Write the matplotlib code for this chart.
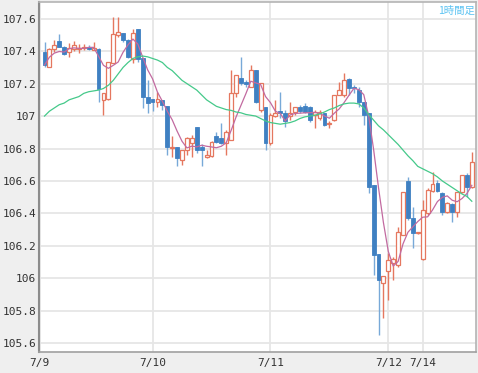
import matplotlib
matplotlib.use("Agg")
import matplotlib.pyplot as plt
import numpy as np
import pandas as pd

# ---- data (hourly candles) ----
opens = [107.397, 107.300, 107.411, 107.463, 107.428, 107.397, 107.411, 107.414, 107.418, 107.428,
         107.410, 107.411, 107.099, 107.103, 107.325, 107.500, 107.514, 107.469, 107.350, 107.535,
         107.356, 107.116, 107.103, 107.089, 107.099, 107.062, 106.801, 106.812, 106.729, 106.791,
         106.832, 106.931, 106.810, 106.750, 106.752, 106.877, 106.863, 106.836, 106.853, 107.140,
         107.232, 107.212, 107.181, 107.284, 107.037, 107.058, 106.832, 107.000, 107.031, 107.021,
         107.000, 107.027, 107.054, 107.062, 107.058, 107.007, 106.986, 107.017, 106.951, 106.976,
         107.130, 107.130, 107.228, 107.181, 107.161, 107.089, 107.017, 106.575, 106.148, 105.973,
         106.047, 106.097, 106.082, 106.267, 106.602, 106.370, 106.280, 106.117, 106.401, 106.538,
         106.590, 106.524, 106.411, 106.458, 106.411, 106.534, 106.637, 106.565]
highs = [107.459, 107.420, 107.469, 107.506, 107.432, 107.448, 107.460, 107.447, 107.447, 107.438,
         107.458, 107.417, 107.140, 107.335, 107.613, 107.613, 107.514, 107.473, 107.535, 107.535,
         107.356, 107.222, 107.103, 107.150, 107.099, 107.062, 106.877, 106.812, 106.791, 106.870,
         106.883, 106.931, 106.830, 106.790, 106.845, 106.904, 106.955, 106.914, 107.284, 107.253,
         107.366, 107.220, 107.315, 107.284, 107.202, 107.058, 107.017, 107.099, 107.150, 107.037,
         107.089, 107.058, 107.068, 107.080, 107.062, 107.037, 107.035, 107.017, 106.970, 107.130,
         107.210, 107.263, 107.232, 107.190, 107.181, 107.089, 107.017, 106.575, 106.148, 106.014,
         106.154, 106.134, 106.319, 106.534, 106.627, 106.442, 106.285, 106.483, 106.555, 106.657,
         106.606, 106.534, 106.473, 106.462, 106.534, 106.637, 106.647, 106.781]
lows = [107.304, 107.300, 107.397, 107.424, 107.376, 107.366, 107.400, 107.390, 107.410, 107.407,
        107.405, 107.089, 107.007, 107.099, 107.325, 107.490, 107.459, 107.356, 107.329, 107.335,
        107.048, 107.017, 107.030, 107.058, 107.037, 106.760, 106.750, 106.690, 106.700, 106.760,
        106.750, 106.775, 106.690, 106.740, 106.745, 106.835, 106.828, 106.760, 106.850, 107.120,
        107.190, 107.181, 107.181, 107.078, 107.027, 106.791, 106.822, 106.996, 106.990, 106.930,
        106.976, 107.007, 107.017, 107.020, 106.965, 106.924, 106.975, 106.940, 106.925, 106.972,
        107.128, 107.120, 107.130, 107.140, 107.058, 106.945, 106.524, 106.021, 105.651, 105.754,
        105.867, 105.990, 106.072, 106.267, 106.360, 106.185, 106.275, 106.113, 106.390, 106.534,
        106.534, 106.390, 106.401, 106.349, 106.380, 106.524, 106.503, 106.555]
closes = [107.315, 107.411, 107.438, 107.428, 107.380, 107.418, 107.438, 107.422, 107.428, 107.411,
          107.418, 107.167, 107.140, 107.335, 107.504, 107.520, 107.469, 107.366, 107.514, 107.350,
          107.116, 107.079, 107.089, 107.103, 107.068, 106.812, 106.812, 106.740, 106.791, 106.863,
          106.867, 106.790, 106.790, 106.760, 106.842, 106.842, 106.836, 106.900, 107.140, 107.253,
          107.202, 107.195, 107.284, 107.089, 107.202, 106.832, 107.007, 107.021, 107.017, 106.972,
          107.017, 107.054, 107.030, 107.027, 106.976, 107.027, 107.027, 106.945, 106.959, 107.130,
          107.161, 107.222, 107.171, 107.171, 107.089, 107.007, 106.565, 106.144, 105.990, 106.014,
          106.113, 106.117, 106.288, 106.534, 106.370, 106.278, 106.281, 106.421, 106.545, 106.581,
          106.538, 106.411, 106.466, 106.411, 106.534, 106.637, 106.565, 106.719]
ma_long = [107.000, 107.030, 107.050, 107.070, 107.080, 107.100, 107.110, 107.120, 107.140, 107.150,
           107.155, 107.160, 107.170, 107.190, 107.220, 107.260, 107.300, 107.330, 107.355, 107.365,
           107.370, 107.365, 107.355, 107.345, 107.330, 107.300, 107.280, 107.250, 107.220, 107.200,
           107.180, 107.160, 107.130, 107.100, 107.080, 107.060, 107.050, 107.040, 107.035, 107.025,
           107.020, 107.010, 107.005, 107.000, 106.985, 106.970, 106.960, 106.955, 106.950, 106.955,
           106.960, 106.970, 106.985, 106.995, 107.000, 107.005, 107.013, 107.025, 107.040, 107.050,
           107.065, 107.075, 107.080, 107.080, 107.075, 107.050, 107.010, 106.975, 106.940, 106.915,
           106.885, 106.855, 106.825, 106.790, 106.755, 106.725, 106.690, 106.675, 106.660, 106.645,
           106.625, 106.600, 106.580, 106.560, 106.540, 106.520, 106.505, 106.475]
date_labels = ["7/9", "7/10", "7/11", "7/12", "7/14"]
date_label_index = [-1, 22, 46, 70, 77]
price_ticks = [105.6, 105.8, 106.0, 106.2, 106.4, 106.6, 106.8, 107.0, 107.2, 107.4, 107.6]
price_tick_labels = ["105.6", "105.8", "106", "106.2", "106.4", "106.6", "106.8", "107", "107.2", "107.4", "107.6"]
timeframe_label = "1時間足"

# ---- styling ----
UP_EDGE = "#e5775f"
DOWN_FACE = "#3f80c2"
DOWN_WICK = "#78a9d8"
MA_SHORT = "#c26aa0"
MA_LONG = "#45c98a"

fig = plt.figure(figsize=(4.78, 3.73), dpi=100, facecolor="#efefef")
ax = fig.add_axes([39 / 478, 1 - 352 / 373, (476 - 39) / 478, (352 - 2) / 373])
ax.set_facecolor("white")

o = np.array(opens); h = np.array(highs); l = np.array(lows); c = np.array(closes)
x = np.arange(len(o))
up = c >= o

# wicks
ax.vlines(x[up], l[up], h[up], color=UP_EDGE, lw=1.0, zorder=2)
ax.vlines(x[~up], l[~up], h[~up], color=DOWN_WICK, lw=1.0, zorder=2)

# bodies
bw = 0.78
body_bottom = np.minimum(o, c)
body_h = np.maximum(np.abs(c - o), 0.004)
ax.bar(x[up], body_h[up], bottom=body_bottom[up], width=bw, facecolor="white",
       edgecolor=UP_EDGE, linewidth=0.9, zorder=3)
ax.bar(x[~up], body_h[~up], bottom=body_bottom[~up], width=bw, facecolor=DOWN_FACE,
       edgecolor=DOWN_FACE, linewidth=0.6, zorder=3)

# moving averages
ma_short = pd.Series(closes).rolling(5, min_periods=1).mean()
ax.plot(x, ma_short, color=MA_SHORT, lw=0.9, zorder=4)
ax.plot(x, ma_long, color=MA_LONG, lw=0.9, zorder=4)

ax.set_xlim(-1.12, 87.85)
ax.set_ylim(105.546, 107.703)

ax.set_yticks(price_ticks)
ax.set_yticklabels(price_tick_labels)
ax.set_xticks(date_label_index)
ax.set_xticklabels(date_labels)
ax.tick_params(axis="both", length=0, labelsize=8, labelcolor="#333333")
ax.tick_params(axis="y", pad=2)
ax.tick_params(axis="x", pad=4)
for lab in ax.get_xticklabels() + ax.get_yticklabels():
    lab.set_family("DejaVu Sans Mono")

ax.grid(True, color="#e6e6e6", lw=1.3, zorder=0)
ax.set_axisbelow(True)

ax.spines["left"].set_color("#8c8c8c"); ax.spines["left"].set_linewidth(1.5)
ax.spines["bottom"].set_color("#a0a0a0"); ax.spines["bottom"].set_linewidth(1.2)
ax.spines["top"].set_color("#b4b4b4"); ax.spines["top"].set_linewidth(1.2)
ax.spines["right"].set_color("#b4b4b4"); ax.spines["right"].set_linewidth(1.2)

ax.text(0.998, 0.99, timeframe_label, transform=ax.transAxes, ha="right", va="top",
        fontsize=7.5, color="#5cc3f2", family=["Noto Sans CJK JP", "DejaVu Sans"])

fig.savefig("out.png", dpi=100, facecolor=fig.get_facecolor())
